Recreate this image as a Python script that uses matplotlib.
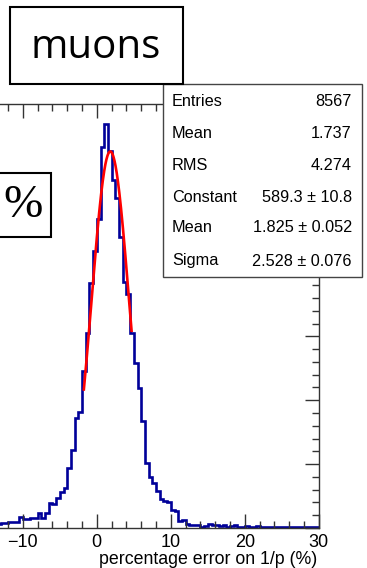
import numpy as np
import matplotlib
matplotlib.use("Agg")
import matplotlib.pyplot as plt
from matplotlib.patches import Rectangle
from matplotlib.ticker import MultipleLocator, FuncFormatter

# histogram of percentage error on 1/p (muons), 0.5 wide bins starting at -13.5
hist_start = -13.5
bin_width = 0.5
counts = [6, 8, 8, 10, 9, 9, 17, 14, 14, 15, 15, 23, 15, 24, 39, 38, 47, 56, 62, 94,
          122, 172, 181, 245, 305, 384, 434, 484, 597, 632, 590, 544, 516, 455, 385, 367,
          305, 259, 219, 167, 102, 80, 70, 58, 45, 42, 40, 28, 27, 11, 12, 6, 5,
          5, 4, 2, 3, 6, 4, 5, 3, 4, 2, 3, 4, 2, 2, 3, 2, 2, 3, 1, 2, 2, 1, 2, 1,
          1, 2, 1, 1, 2, 1, 1, 2, 1, 1]

# gaussian fit from the stats box
fit_const, fit_mean, fit_sigma = 589.3, 1.825, 2.528
fit_range = (-1.75, 4.7)

stats_names = ["Entries", "Mean", "RMS", "Constant", "Mean", "Sigma"]
stats_values = ["8567", "1.737", "4.274", "589.3 ± 10.8", "1.825 ± 0.052", "2.528 ± 0.076"]

W, H = 367, 568
fig = plt.figure(figsize=(W / 100, H / 100), dpi=100)


def fx(px):
    return px / W


def fy(py):
    return 1 - py / H


# axes frame: x from -30 (off to the left) to 30, bottom at y=528, top at y=104
x_lo, x_hi = -30, 30
px0, px_per_unit = 96.8, 7.4
left_px = px0 + px_per_unit * x_lo
right_px = px0 + px_per_unit * x_hi
ax = fig.add_axes([fx(left_px), fy(528), fx(right_px - left_px), (528 - 104) / H])

edges = hist_start + bin_width * np.arange(len(counts) + 1)
ax.stairs(counts, edges, color="#000099", lw=1.9)

xf = np.linspace(fit_range[0], fit_range[1], 200)
ax.plot(xf, fit_const * np.exp(-0.5 * ((xf - fit_mean) / fit_sigma) ** 2), color="#ff0000", lw=1.9)

ax.set_xlim(x_lo, x_hi)
ax.set_ylim(0, 1.05 * max(counts))
ax.xaxis.set_major_locator(MultipleLocator(10))
ax.xaxis.set_minor_locator(MultipleLocator(2))
ax.yaxis.set_major_locator(MultipleLocator(100))
ax.yaxis.set_minor_locator(MultipleLocator(20))
# labels left of the picture edge are not shown
ax.xaxis.set_major_formatter(FuncFormatter(lambda v, p: "" if v < -12 else f"{v:.0f}".replace("-", "\u2212")))
ax.tick_params(which="both", direction="in", top=True, right=True, color="#333333", width=1)
ax.tick_params(which="major", length=10, labelsize=13, pad=4)
ax.tick_params(which="minor", length=5)
ax.tick_params(axis="y", labelleft=False)
for lab in ax.get_xticklabels():
    lab.set_fontfamily("Liberation Sans")
for s in ax.spines.values():
    s.set_color("#333333")
    s.set_linewidth(1)

fig.text(fx(317), fy(559), "percentage error on 1/p (%)", ha="right", va="center",
         fontsize=12.8, family="Liberation Sans")

# stats box
fig.patches.append(Rectangle((fx(163), fy(277)), fx(362 - 163), (277 - 84) / H,
                             transform=fig.transFigure, facecolor="white",
                             edgecolor="#444444", lw=1, zorder=5))
row_y = [102, 133, 165, 197, 228, 261]
for name, val, ry in zip(stats_names, stats_values, row_y):
    fig.text(fx(172), fy(ry), name, ha="left", va="center", fontsize=11.7,
             family="Liberation Sans", zorder=6)
    fig.text(fx(352), fy(ry), val, ha="right", va="center", fontsize=11.7,
             family="Liberation Sans", zorder=6)

# "muons" label box
fig.patches.append(Rectangle((fx(10), fy(84)), fx(183 - 10), (84 - 7) / H,
                             transform=fig.transFigure, facecolor="white",
                             edgecolor="black", lw=1.5, zorder=7))
fig.text(fx(96), fy(48), "muons", ha="center", va="center", fontsize=29,
         family="Open Sans", zorder=8)

# "%" box, cut off on the left
fig.patches.append(Rectangle((fx(-20), fy(237)), fx(51 + 20), (237 - 173) / H,
                             transform=fig.transFigure, facecolor="white",
                             edgecolor="black", lw=1.5, zorder=7))
fig.text(fx(23), fy(206), "%", ha="center", va="center", fontsize=34,
         family="Liberation Serif", zorder=8)

fig.savefig("out.png", dpi=100)
